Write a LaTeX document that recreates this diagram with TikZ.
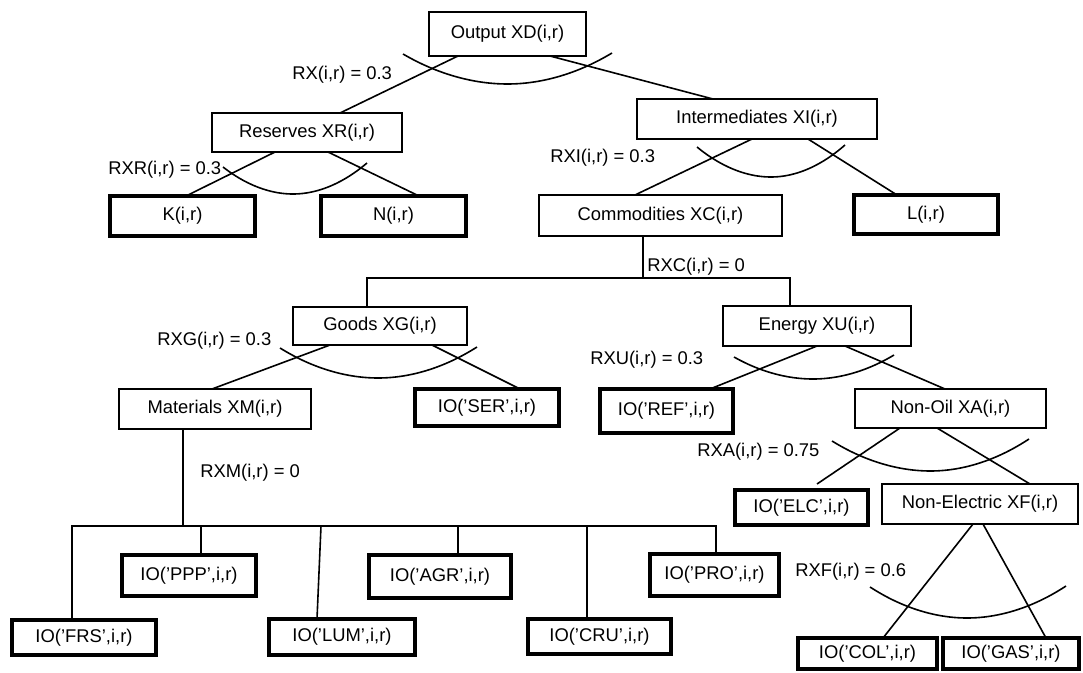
\documentclass[tikz,border=0pt]{standalone}
\usepackage{fontspec}
\setmainfont{Liberation Sans}
\usetikzlibrary{calc}
\tikzset{
  every node/.style={font=\fontsize{13.8}{16}\selectfont},
  box/.style={draw, line width=1.2pt, inner sep=0pt, outer sep=0pt},
  leaf/.style={box, line width=3pt},
  link/.style={line width=1.2pt},
  nest/.style={line width=1.2pt},
  lbl/.style={anchor=west, inner sep=0pt},
}
% box: style, name, x1, y1, x2, y2, text (pixel-like units, y downwards)
\newcommand{\bx}[7]{\node[#1, minimum width={(#5-#3)*0.75pt}, minimum height={(#6-#4)*0.75pt}] (#2) at ({(#3+#5)/2},{(#4+#6)/2}) {#7};}
% elasticity arc under a nest: node, left end, vertex, right end (offsets from node.south)
\newcommand{\nestarc}[7]{\draw[nest] ($(#1.south)+(#2,#3)$) parabola bend ($(#1.south)+(#4,#5)$) ($(#1.south)+(#6,#7)$);}
\begin{document}
\begin{tikzpicture}[x=0.75pt,y=-0.75pt]
\useasboundingbox[fill=white] (0,0) rectangle (1083,672);

% nests
\bx{box}{out}{429}{12}{586}{56}{Output XD(i,r)}
\bx{box}{res}{212}{113}{402}{152}{Reserves XR(i,r)}
\bx{box}{int}{637}{99}{877}{139}{Intermediates XI(i,r)}
\bx{box}{com}{539}{195}{782}{236}{Commodities XC(i,r)}
\bx{box}{goods}{293}{307}{467}{345}{Goods XG(i,r)}
\bx{box}{energy}{723}{306}{911}{346}{Energy XU(i,r)}
\bx{box}{mat}{119}{389}{311}{429}{Materials XM(i,r)}
\bx{box}{nonoil}{855}{389}{1046}{428}{Non-Oil XA(i,r)}
\bx{box}{nonelec}{882}{484}{1078}{524}{Non-Electric XF(i,r)}

% primary factors and inputs
\bx{leaf}{K}{110}{196}{255}{236}{K(i,r)}
\bx{leaf}{N}{321}{196}{466}{236}{N(i,r)}
\bx{leaf}{L}{854}{195}{998}{234}{L(i,r)}
\bx{leaf}{ser}{415}{389}{559}{426}{IO(’SER’,i,r)}
\bx{leaf}{ref}{600}{389}{733}{433}{IO(’REF’,i,r)}
\bx{leaf}{elc}{735}{490}{868}{525}{IO(’ELC’,i,r)}
\bx{leaf}{frs}{12}{620}{156}{655}{IO(’FRS’,i,r)}
\bx{leaf}{ppp}{122}{555}{256}{596}{IO(’PPP’,i,r)}
\bx{leaf}{lum}{269}{619}{415}{655}{IO(’LUM’,i,r)}
\bx{leaf}{agr}{369}{555}{511}{598}{IO(’AGR’,i,r)}
\bx{leaf}{cru}{528}{619}{671}{654}{IO(’CRU’,i,r)}
\bx{leaf}{pro}{650}{554}{779}{596}{IO(’PRO’,i,r)}
\bx{leaf}{col}{798}{638}{937}{669}{IO(’COL’,i,r)}
\bx{leaf}{gas}{943}{638}{1079}{669}{IO(’GAS’,i,r)}

% elasticity labels
\node[lbl] (lrx)  at (292,75)  {RX(i,r) = 0.3};
\node[lbl] (lrxr) at (108,170) {RXR(i,r) = 0.3};
\node[lbl] (lrxi) at (550,158) {RXI(i,r) = 0.3};
\node[lbl] (lrxc) at (647,267) {RXC(i,r) = 0};
\node[lbl] (lrxg) at (157,341) {RXG(i,r) = 0.3};
\node[lbl] (lrxu) at (590,360) {RXU(i,r) = 0.3};
\node[lbl] (lrxa) at (697,452) {RXA(i,r) = 0.75};
\node[lbl] (lrxm) at (200,473) {RXM(i,r) = 0};
\node[lbl] (lrxf) at (795,572) {RXF(i,r) = 0.6};

% CES branches
\draw[link] ($(out.south)+(-49.5,0)$) -- ($(res.north)+(33,0)$);
\draw[link] ($(out.south)+(42.5,0)$) -- ($(int.north)+(-44,0)$);
\draw[link] ($(res.south)+(-32,0)$) -- ($(K.north)+(3.5,0)$);
\draw[link] ($(res.south)+(21,0)$) -- ($(N.north)+(25.5,0)$);
\draw[link] ($(int.south)+(-5,0)$) -- ($(com.north)+(-25.5,0)$);
\draw[link] ($(int.south)+(51,0)$) -- ($(L.north)+(-29,0)$);
\draw[link] ($(goods.south)+(-50,0)$) -- ($(mat.north)+(-3,0)$);
\draw[link] ($(goods.south)+(52,0)$) -- ($(ser.north)+(33,0)$);
\draw[link] (energy.south) -- ($(ref.north)+(43.5,0)$);
\draw[link] ($(energy.south)+(28,0)$) -- ($(nonoil.north)+(-5.5,0)$);
\draw[link] ($(nonoil.south)+(-50.5,0)$) -- ($(elc.north)+(15.5,-6)$);
\draw[link] ($(nonoil.south)+(-13.5,0)$) -- ($(nonelec.north)+(50,0)$);
\draw[link] ($(nonelec.south)+(-7,0)$) -- ($(col.north)+(15.5,0)$);
\draw[link] ($(nonelec.south)+(3,0)$) -- ($(gas.north)+(35,0)$);

% Leontief splits
\coordinate (cj) at ($(com.south)+(-17.5,42)$);
\draw[link] ($(com.south)+(-17.5,0)$) -- (cj);
\draw[link] ($(goods.north)+(-13,0)$) |- (cj) -| ($(energy.north)+(-27,0)$);

\coordinate (mj) at ($(mat.south)+(-32,97)$);
\draw[link] ($(mat.south)+(-32,0)$) -- (mj);
\draw[link] ($(frs.north)+(-12,0)$) |- (mj) -| ($(pro.north)+(1.5,0)$);
\draw[link] ($(ppp.north)+(12,0)$) |- (mj);
\draw[link] ($(mj)+(138,0)$) -- ($(lum.north)+(-25,0)$);
\draw[link] ($(agr.north)+(18,0)$) |- (mj);
\draw[link] ($(cru.north)+(-12.5,0)$) |- (mj);

% substitution arcs
\nestarc{out}{-104.5}{-2}{0}{28}{104.5}{-3}
\nestarc{res}{-84}{15}{-14}{42}{60}{11}
\nestarc{int}{-60}{8}{14}{38}{88}{6}
\nestarc{goods}{-100}{3}{-2}{33}{97}{2}
\nestarc{energy}{-83}{11}{-4}{33}{77}{9}
\nestarc{nonoil}{-118.5}{13}{-20}{43}{78.5}{11}
\nestarc{nonelec}{-110}{63}{-13}{94}{86}{62}
\end{tikzpicture}
\end{document}
